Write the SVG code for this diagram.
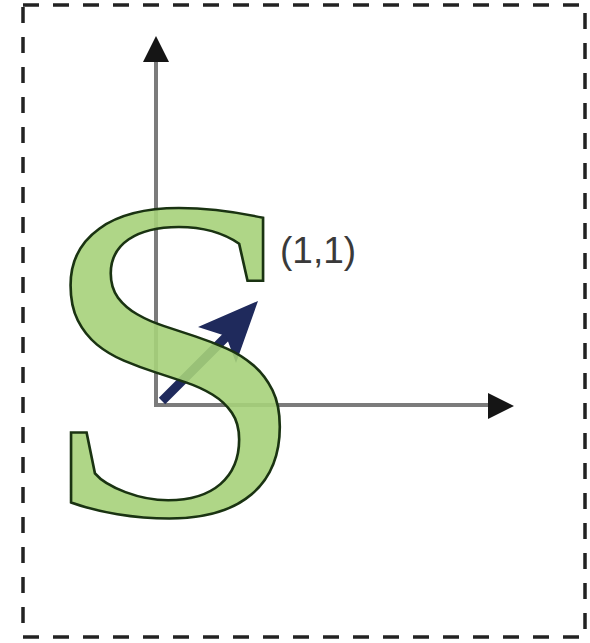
<svg xmlns="http://www.w3.org/2000/svg" width="590" height="643" viewBox="0 0 590 643">
<style>
.axis{stroke:#7b7b7b;stroke-width:4;fill:none}
.head{fill:#151515}
.vec{stroke:#1f2a5c;stroke-width:9;fill:none}
.letter{font-family:"Liberation Serif","Times New Roman",serif;fill:#a6d27a;fill-opacity:0.9;stroke:#1a3312;stroke-width:2.5}
.label{font-family:"Liberation Sans",Arial,sans-serif;font-size:37px;fill:#3a3a3a}
</style>
<rect x="23" y="5" width="562" height="632" fill="#fff" stroke="#222" stroke-width="3.5" stroke-dasharray="16 14"/>
<g id="connectors">
<line class="axis" x1="156" y1="405" x2="156" y2="58"/>
<line class="axis" x1="154" y1="405" x2="492" y2="405"/>
<polygon class="head" points="156,36 143,62 169,62"/>
<polygon class="head" points="514,406 488,393 488,419"/>
<line class="vec" x1="162" y1="401" x2="232" y2="331"/>
<polygon fill="#1f2a5c" points="258,301 198,327 226,336 236,363"/>
</g>
<g id="letter-s">
<text class="letter" transform="translate(174 0) scale(1.06 1) translate(-174 0)" x="174" y="514" font-size="462" text-anchor="middle">S</text>
</g>
<g id="label">
<text class="label" x="280" y="263">(1,1)</text>
</g>
</svg>
